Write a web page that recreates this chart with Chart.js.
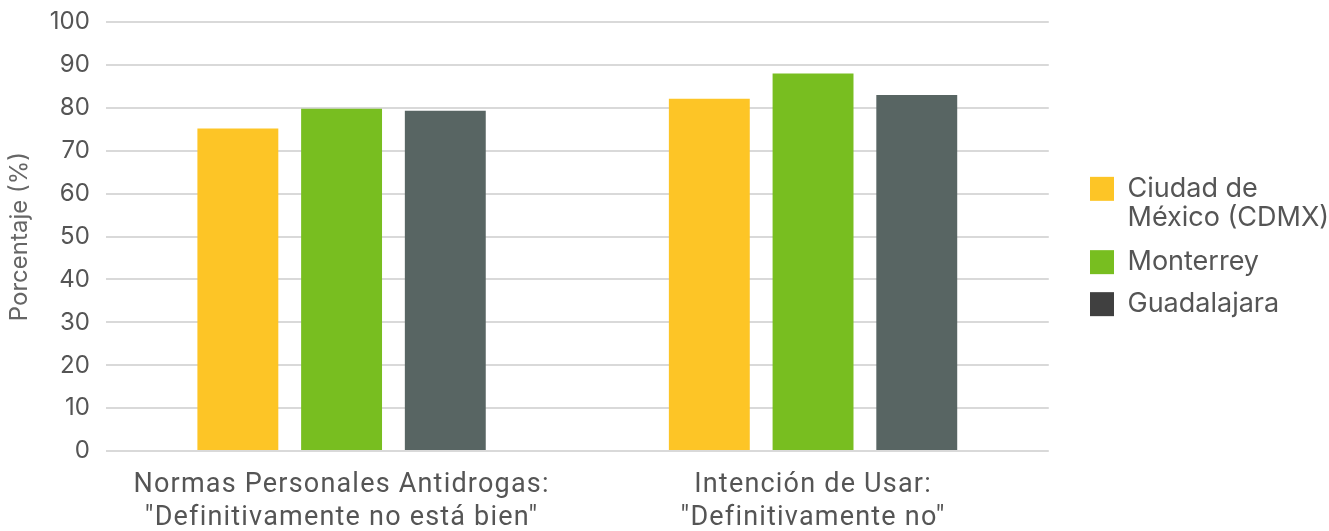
<!DOCTYPE html>
<html>
<head>
<meta charset="utf-8">
<script src="https://cdn.jsdelivr.net/npm/chart.js@4.4.0/dist/chart.umd.min.js"></script>
<style>
  html, body { margin: 0; padding: 0; background: #fff; }
  #wrap { width: 1329px; height: 531px; }
</style>
</head>
<body>
<div id="wrap"><canvas id="bar-chart"></canvas></div>
<script>
// Data
const categories = [
  ["Normas Personales Antidrogas:", "\"Definitivamente no está bien\""],
  ["Intención de Usar:", "\"Definitivamente no\""]
];
const cdmx = [75.2, 82.1];
const monterrey = [79.8, 88.0];
const guadalajara = [79.3, 83.0];
const yTicks = [0, 10, 20, 30, 40, 50, 60, 70, 80, 90, 100];

const textColor = "#555";

const legendLabels = [["Ciudad de", "México (CDMX)"], "Monterrey", "Guadalajara"];
const legendColors = ["#FDC526", "#78BE20", "#404040"];

// letter spacing on the category labels + extra gap before the legend
const xLabelSpacing = {
  id: "xLabelSpacing",
  beforeUpdate(chart) {
    const lg = chart.legend;
    if (lg && !lg._wide) {
      const origFit = lg.fit;
      lg.fit = function () {
        origFit.call(this);
        this.width += 12;
      };
      lg._wide = true;
    }
  },
  afterLayout(chart) {
    const xs = chart.scales.x;
    if (!xs._spaced) {
      const orig = xs.drawLabels;
      xs.drawLabels = function (area) {
        chart.ctx.save();
        chart.ctx.letterSpacing = "1.2px";
        orig.call(this, area);
        chart.ctx.restore();
      };
      xs._spaced = true;
    }
    // move legend items into place
    const lg = chart.legend;
    const dx = 1075 - lg.left;
    lg.left += dx;
    lg.right += dx;
    lg.top -= 21;
    lg.bottom -= 21;
  },
};

const ctx = document.getElementById("bar-chart").getContext("2d");

new Chart(ctx, {
  type: "bar",
  data: {
    labels: categories,
    datasets: [
      { label: "Ciudad de México (CDMX)", data: cdmx, backgroundColor: "#FDC526" },
      { label: "Monterrey", data: monterrey, backgroundColor: "#78BE20" },
      { label: "Guadalajara", data: guadalajara, backgroundColor: "#586563" },
    ],
  },
  options: {
    responsive: true,
    maintainAspectRatio: false,
    animation: false,
    layout: { padding: { left: 0, right: 4, top: -10, bottom: -14 } },
    datasets: {
      bar: { categoryPercentage: 0.66, barPercentage: 0.78 },
    },
    scales: {
      x: {
        grid: { display: false },
        border: { display: false },
        ticks: {
          color: textColor,
          font: { family: "Roboto", size: 27, lineHeight: 1.22 },
          padding: 10,
          maxRotation: 0,
        },
      },
      y: {
        min: 0,
        max: 100,
        afterBuildTicks: (axis) => {
          axis.ticks = yTicks.map((v) => ({ value: v }));
        },
        grid: { color: "#d9d9d9", lineWidth: 2, drawTicks: false },
        border: { display: false },
        ticks: {
          color: textColor,
          font: { family: "Inter", size: 24, lineHeight: 0.5 },
          padding: 16,
        },
        title: {
          display: true,
          text: "Porcentaje (%)",
          color: "#666",
          font: { family: "Inter", size: 24 },
          padding: { top: 5, bottom: 0 },
        },
      },
    },
    plugins: {
      title: { display: false },
      tooltip: { enabled: false },
      legend: {
        display: true,
        position: "right",
        labels: {
          color: textColor,
          font: { family: "Inter", size: 27, lineHeight: 1.08 },
          boxWidth: 24,
          boxHeight: 24,
          padding: 15,
          generateLabels: (chart) =>
            legendLabels.map((text, i) => ({
              text: text,
              fillStyle: legendColors[i],
              strokeStyle: legendColors[i],
              lineWidth: 0,
              hidden: false,
              datasetIndex: i,
              fontColor: textColor,
            })),
        },
      },
    },
  },
  plugins: [xLabelSpacing],
});
</script>
</body>
</html>
